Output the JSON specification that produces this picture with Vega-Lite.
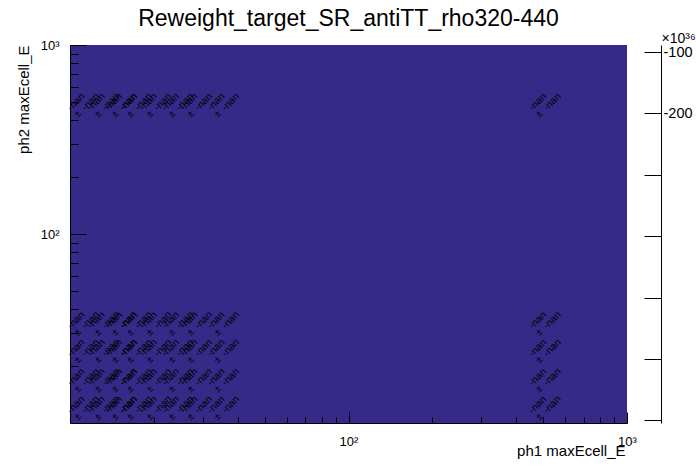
{
  "$schema": "https://vega.github.io/schema/vega-lite/v6.json",
  "width": 557,
  "height": 378,
  "autosize": {"type": "none"},
  "padding": {"left": 70, "top": 45, "right": 69, "bottom": 49},
  "background": "white",
  "title": {"text": "Reweight_target_SR_antiTT_rho320-440", "fontSize": 23, "font": "Liberation Sans", "fontWeight": "normal", "color": "black", "anchor": "middle", "frame": "group", "baseline": "alphabetic", "offset": 10, "dy": 28},
  "data": {"values": [
    {"x": 11, "y": 12.5, "content": "-nan", "error": "-nan"},
    {"x": 13, "y": 12.5, "content": "-nan", "error": "-nan"},
    {"x": 15, "y": 12.5, "content": "-nan", "error": "-nan"},
    {"x": 17, "y": 12.5, "content": "-nan", "error": "-nan"},
    {"x": 20, "y": 12.5, "content": "-nan", "error": "-nan"},
    {"x": 24, "y": 12.5, "content": "-nan", "error": "-nan"},
    {"x": 28, "y": 12.5, "content": "-nan", "error": "-nan"},
    {"x": 35, "y": 12.5, "content": "-nan", "error": "-nan"},
    {"x": 500, "y": 12.5, "content": "-nan", "error": "-nan"},
    {"x": 11, "y": 17.5, "content": "-nan", "error": "-nan"},
    {"x": 13, "y": 17.5, "content": "-nan", "error": "-nan"},
    {"x": 15, "y": 17.5, "content": "-nan", "error": "-nan"},
    {"x": 17, "y": 17.5, "content": "-nan", "error": "-nan"},
    {"x": 20, "y": 17.5, "content": "-nan", "error": "-nan"},
    {"x": 24, "y": 17.5, "content": "-nan", "error": "-nan"},
    {"x": 28, "y": 17.5, "content": "-nan", "error": "-nan"},
    {"x": 35, "y": 17.5, "content": "-nan", "error": "-nan"},
    {"x": 500, "y": 17.5, "content": "-nan", "error": "-nan"},
    {"x": 11, "y": 25, "content": "-nan", "error": "-nan"},
    {"x": 13, "y": 25, "content": "-nan", "error": "-nan"},
    {"x": 15, "y": 25, "content": "-nan", "error": "-nan"},
    {"x": 17, "y": 25, "content": "-nan", "error": "-nan"},
    {"x": 20, "y": 25, "content": "-nan", "error": "-nan"},
    {"x": 24, "y": 25, "content": "-nan", "error": "-nan"},
    {"x": 28, "y": 25, "content": "-nan", "error": "-nan"},
    {"x": 35, "y": 25, "content": "-nan", "error": "-nan"},
    {"x": 500, "y": 25, "content": "-nan", "error": "-nan"},
    {"x": 11, "y": 35, "content": "-nan", "error": "-nan"},
    {"x": 13, "y": 35, "content": "-nan", "error": "-nan"},
    {"x": 15, "y": 35, "content": "-nan", "error": "-nan"},
    {"x": 17, "y": 35, "content": "-nan", "error": "-nan"},
    {"x": 20, "y": 35, "content": "-nan", "error": "-nan"},
    {"x": 24, "y": 35, "content": "-nan", "error": "-nan"},
    {"x": 28, "y": 35, "content": "-nan", "error": "-nan"},
    {"x": 35, "y": 35, "content": "-nan", "error": "-nan"},
    {"x": 500, "y": 35, "content": "-nan", "error": "-nan"},
    {"x": 11, "y": 500, "content": "-nan", "error": "-nan"},
    {"x": 13, "y": 500, "content": "-nan", "error": "-nan"},
    {"x": 15, "y": 500, "content": "-nan", "error": "-nan"},
    {"x": 17, "y": 500, "content": "-nan", "error": "-nan"},
    {"x": 20, "y": 500, "content": "-nan", "error": "-nan"},
    {"x": 24, "y": 500, "content": "-nan", "error": "-nan"},
    {"x": 28, "y": 500, "content": "-nan", "error": "-nan"},
    {"x": 35, "y": 500, "content": "-nan", "error": "-nan"},
    {"x": 500, "y": 500, "content": "-nan", "error": "-nan"}
  ]},
  "resolve": {"scale": {"y": "independent"}, "axis": {"x": "independent", "y": "independent"}},
  "layer": [
    {
      "mark": {"type": "text", "angle": -45, "fontSize": 10, "font": "Liberation Sans", "color": "black", "align": "center", "baseline": "middle", "dx": -3.9, "dy": -3.9},
      "encoding": {
        "x": {"field": "x", "type": "quantitative", "scale": {"type": "log", "domain": [10, 1000], "nice": false},
          "axis": {"orient": "bottom", "values": [100, 1000], "tickSize": -11, "labelPadding": 23, "labelFlush": false, "labelOverlap": false,
            "labelExpr": "datum.value == 100 ? '10²' : datum.value == 1000 ? '10³' : ''", "labelFontSize": 13,
            "title": "ph1 maxEcell_E", "titleFontSize": 15, "titleAlign": "right", "titleAnchor": null, "titleX": 555, "titleY": 32, "titleBaseline": "alphabetic"}},
        "y": {"field": "y", "type": "quantitative", "scale": {"type": "log", "domain": [10, 1000], "nice": false},
          "axis": {"orient": "left", "values": [100, 1000], "tickSize": -16, "labelPadding": 27, "labelFlush": false, "labelOverlap": false,
            "labelExpr": "datum.value == 100 ? '10²' : datum.value == 1000 ? '10³' : ''", "labelFontSize": 13,
            "title": "ph2 maxEcell_E", "titleFontSize": 15, "titleAngle": 270, "titleAlign": "right", "titleAnchor": null, "titleX": -42, "titleY": 0, "titleBaseline": "alphabetic"}},
        "text": {"field": "content"}
      }
    },
    {
      "mark": {"type": "text", "angle": -45, "fontSize": 10, "font": "Liberation Sans", "color": "black", "align": "center", "baseline": "middle", "dx": 6.4, "dy": 6.3},
      "encoding": {
        "x": {"field": "x", "type": "quantitative", "scale": {"type": "log", "domain": [10, 1000], "nice": false},
          "axis": {"orient": "bottom", "values": [20, 30, 40, 50, 60, 70, 80, 90, 200, 300, 400, 500, 600, 700, 800, 900], "tickSize": -6, "labels": false, "domain": false, "title": null}},
        "y": {"field": "y", "type": "quantitative", "scale": {"type": "log", "domain": [10, 1000], "nice": false},
          "axis": {"orient": "left", "values": [20, 30, 40, 50, 60, 70, 80, 90, 200, 300, 400, 500, 600, 700, 800, 900], "tickSize": -8, "labels": false, "domain": false, "title": null}},
        "text": {"field": "error"}
      }
    },
    {
      "mark": {"type": "text", "angle": -45, "fontSize": 10, "font": "Liberation Sans", "color": "black", "align": "center", "baseline": "middle", "dx": -11.3, "dy": 5.6, "text": "±"},
      "encoding": {
        "x": {"field": "x", "type": "quantitative", "scale": {"type": "log", "domain": [10, 1000], "nice": false}, "axis": null},
        "y": {"field": "y", "type": "quantitative", "scale": {"type": "log", "domain": [10, 1000], "nice": false}, "axis": null}
      }
    },
    {
      "mark": {"type": "rule", "opacity": 0},
      "encoding": {
        "y": {"datum": -400, "type": "quantitative", "scale": {"domain": [-704.2, -88.6], "nice": false, "zero": false},
          "axis": {"orient": "right", "offset": 34, "values": [-100, -200, -300, -400, -500, -600, -700], "tickSize": -17, "labelPadding": 19, "labelFlush": false, "labelOverlap": false,
            "labelExpr": "datum.value > -250 ? toString(datum.value) : ''", "labelFontSize": 14.5, "labelAlign": "left", "labelBaseline": "middle",
            "title": "×10³⁶", "titleFontSize": 14, "titleAngle": 0, "titleAlign": "left", "titleAnchor": null, "titleX": 0, "titleY": -3, "titleBaseline": "alphabetic"}}
      }
    }
  ],
  "config": {
    "view": {"fill": "#352a87", "stroke": null},
    "axis": {"grid": false, "tickColor": "black", "tickWidth": 1, "domainColor": "black", "domainWidth": 1, "labelColor": "black", "titleColor": "black", "labelFont": "Liberation Sans", "titleFont": "Liberation Sans", "titleFontWeight": "normal"}
  }
}
